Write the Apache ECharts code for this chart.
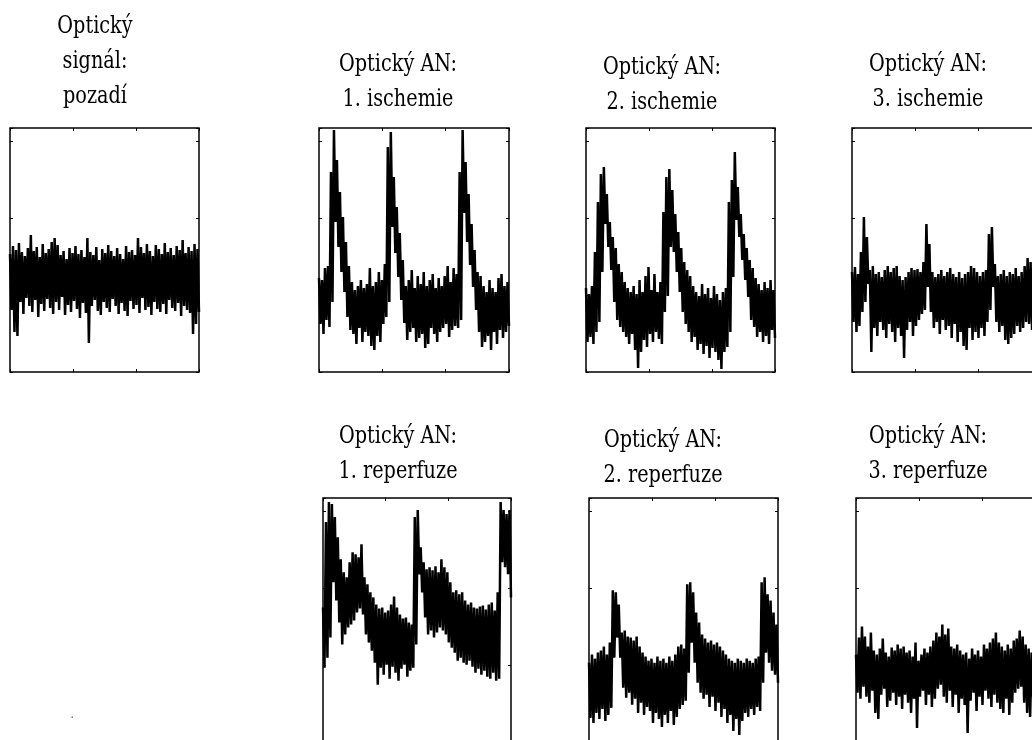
<!DOCTYPE html>
<html>
<head>
<meta charset="utf-8">
<script src="https://cdn.jsdelivr.net/npm/echarts@6/dist/echarts.min.js"></script>
<style>
  html, body { margin: 0; padding: 0; background: #fff; }
  #chart { width: 1032px; height: 740px; }
</style>
</head>
<body>
<div id="chart"></div>
<script>
// Panel titles
const titles = [
  'Optický\nsignál:\npozadí',
  'Optický AN:\n1. ischemie',
  'Optický AN:\n2. ischemie',
  'Optický AN:\n3. ischemie',
  'Optický AN:\n1. reperfuze',
  'Optický AN:\n2. reperfuze',
  'Optický AN:\n3. reperfuze'
];

// Time axis (arbitrary units) and amplitude axis (arbitrary units)
const timeTicks = [0, 1, 2, 3];
const ampTicks = [0, 77, 154, 231];
const ampMax = 244;

// Signal envelopes: upper (hi) and lower (lo) extremes of the noisy trace,
// sampled at 64 evenly spaced times across each record.
const pozadiHi = [118,126,122,129,120,116,124,137,121,125,115,128,119,123,130,134,127,117,121,113,124,119,126,118,122,115,134,120,117,125,112,123,119,127,121,116,124,118,113,126,120,122,117,134,125,119,128,121,116,127,123,118,129,120,124,117,126,122,132,119,125,121,128,123];
const pozadiLo = [62,40,36,70,58,74,66,60,72,55,68,61,73,64,58,70,62,75,57,67,60,71,63,54,69,59,29,66,72,61,57,70,64,60,73,66,58,69,61,56,71,63,67,59,74,62,65,57,70,63,60,68,58,72,64,61,69,56,66,62,59,38,48,60];

const isch1Hi = [94,92,104,106,200,242,212,180,155,130,106,90,82,86,92,84,88,104,86,90,100,92,108,225,240,195,165,139,112,86,92,102,84,96,88,100,86,92,98,84,94,86,96,106,90,104,98,200,242,210,178,148,122,100,96,86,80,92,84,80,94,98,86,90];
const isch1Lo = [48,38,52,45,70,150,125,100,80,55,42,38,28,44,30,40,36,26,22,36,30,48,55,70,145,119,95,72,49,32,40,44,30,34,38,24,28,44,38,30,40,44,48,35,42,46,44,52,159,130,107,85,62,40,25,30,36,22,40,28,42,34,40,46];

const isch2Hi = [84,78,86,120,170,198,205,178,150,135,124,108,100,90,84,80,86,78,92,80,96,105,82,98,80,90,160,195,203,182,158,140,124,110,102,96,86,80,76,88,78,84,74,86,78,72,80,84,170,192,220,185,158,138,124,112,104,94,88,82,90,84,92,82];
const isch2Lo = [30,35,28,40,50,100,148,125,102,70,52,45,40,35,28,38,22,4,20,32,25,38,30,40,33,28,60,76,125,120,100,80,60,48,40,30,35,22,28,18,26,14,24,20,12,3,20,25,40,95,152,135,112,92,75,52,45,35,40,30,36,28,42,34];

const isch3Hi = [100,105,98,120,155,135,102,106,98,100,95,102,106,100,104,106,96,92,95,100,104,102,103,100,110,148,128,100,95,98,102,96,100,104,98,95,100,94,98,100,106,104,100,96,100,102,138,145,108,96,98,102,96,100,98,104,96,100,106,114,110,102,100,98];
const isch3Lo = [50,40,46,60,70,88,20,44,36,50,42,34,48,40,30,44,36,14,42,50,36,46,52,58,62,85,60,44,50,38,52,42,46,34,48,30,40,26,22,44,32,40,34,44,36,50,62,85,50,40,46,32,28,34,38,46,40,44,50,48,42,46,40,48];

const rep1Hi = [135,220,240,238,225,205,183,170,165,180,190,188,185,198,165,158,150,145,138,134,135,130,132,138,146,135,128,124,125,120,118,225,232,195,180,173,175,172,176,170,183,175,170,160,150,152,148,150,142,138,140,135,134,136,137,133,138,140,132,150,240,232,228,232];
const rep1Lo = [75,85,105,160,142,120,98,108,115,118,122,130,134,128,108,100,92,80,58,75,68,78,64,76,70,62,74,78,66,72,75,98,168,150,125,108,112,105,110,115,112,108,100,95,90,82,85,80,78,82,76,70,74,68,72,66,64,70,62,64,180,175,168,145];

const rep2Hi = [80,88,84,90,92,96,88,100,152,150,138,110,112,106,105,102,106,96,90,86,82,84,80,86,82,84,80,86,82,88,96,98,94,158,160,150,130,120,108,104,100,102,98,100,96,92,88,84,82,80,84,82,80,84,82,80,84,86,160,165,148,142,130,118];
const rep2Lo = [25,20,30,24,34,22,28,35,85,105,85,55,45,50,38,44,30,40,28,36,32,20,30,24,16,28,20,32,18,26,34,38,42,70,100,80,60,50,44,48,36,46,32,40,26,34,20,28,12,24,8,22,30,26,34,28,36,32,60,90,80,72,68,60];

const rep3Hi = [88,105,116,106,96,110,92,88,94,104,90,86,95,92,98,94,96,90,92,86,100,82,88,94,90,96,102,110,106,118,108,114,96,94,98,92,88,90,84,94,88,92,86,98,94,100,104,110,100,96,92,98,94,102,104,112,106,98,94,90,96,92,94,90];
const rep3Lo = [50,44,56,46,40,52,30,24,48,54,36,42,50,38,46,34,48,40,30,44,15,46,52,38,48,36,44,54,58,46,40,52,36,48,30,44,38,10,42,50,32,46,38,52,44,36,48,40,34,30,44,28,40,50,54,56,40,30,26,46,38,50,40,48];

// Panel layout: plot box position and title anchor
const panels = [
  { title: titles[0], hi: pozadiHi, lo: pozadiLo, left: 10,  top: 128, width: 189, height: 244, tx: 95,  ty: 9 },
  { title: titles[1], hi: isch1Hi,  lo: isch1Lo,  left: 319, top: 128, width: 190, height: 244, tx: 398, ty: 47 },
  { title: titles[2], hi: isch2Hi,  lo: isch2Lo,  left: 586, top: 128, width: 189, height: 244, tx: 662, ty: 50 },
  { title: titles[3], hi: isch3Hi,  lo: isch3Lo,  left: 852, top: 128, width: 189, height: 244, tx: 928, ty: 47 },
  { title: titles[4], hi: rep1Hi,   lo: rep1Lo,   left: 323, top: 498, width: 188, height: 245, tx: 398, ty: 419 },
  { title: titles[5], hi: rep2Hi,   lo: rep2Lo,   left: 589, top: 498, width: 189, height: 245, tx: 663, ty: 423 },
  { title: titles[6], hi: rep3Hi,   lo: rep3Lo,   left: 856, top: 498, width: 189, height: 245, tx: 928, ty: 419 }
];

const tMax = timeTicks[timeTicks.length - 1];
const tStep = timeTicks[1] - timeTicks[0];
const aStep = ampTicks[1] - ampTicks[0];

// Interleave the envelope extremes into one dense trace
function trace(hi, lo) {
  const n = hi.length;
  const dt = tMax / (n - 0.5);
  const out = [];
  for (let i = 0; i < n; i++) {
    out.push([i * dt, hi[i]]);
    out.push([(i + 0.5) * dt, lo[i]]);
  }
  return out;
}

const tickStyle = { inside: true, length: 3, lineStyle: { color: '#000', width: 1 } };

function xAx(gi, pos) {
  return {
    gridIndex: gi, type: 'value', position: pos, min: 0, max: tMax, interval: tStep,
    axisLine: { show: false, onZero: false }, axisTick: tickStyle,
    axisLabel: { show: false }, splitLine: { show: false }
  };
}
function yAx(gi, pos) {
  return {
    gridIndex: gi, type: 'value', position: pos, min: 0, max: ampMax, interval: aStep,
    axisLine: { show: false, onZero: false }, axisTick: tickStyle,
    axisLabel: { show: false }, splitLine: { show: false }
  };
}

const grid = [], xAxis = [], yAxis = [], series = [], graphic = [];
panels.forEach((p, gi) => {
  grid.push({
    left: p.left, top: p.top, width: p.width, height: p.height,
    show: true, borderColor: '#000', borderWidth: 1.5, backgroundColor: 'transparent',
    containLabel: false, outerBoundsMode: 'none'
  });
  xAxis.push(xAx(gi, 'bottom'), xAx(gi, 'top'));
  yAxis.push(yAx(gi, 'left'), yAx(gi, 'right'));
  series.push({
    type: 'line', xAxisIndex: 2 * gi, yAxisIndex: 2 * gi,
    data: trace(p.hi, p.lo), symbol: 'none', showSymbol: false, silent: true,
    lineStyle: { color: '#000', width: 2.5, join: 'miter' }, clip: true
  });
  graphic.push({
    type: 'text', x: p.tx, y: p.ty, scaleX: 0.77, silent: true,
    style: {
      text: p.title, fill: '#000', font: '25px "DejaVu Serif"',
      align: 'center', verticalAlign: 'top', lineHeight: 35
    }
  });
});

// stray mark in the empty lower-left area
graphic.push({ type: 'rect', shape: { x: 71.5, y: 716.5, width: 1.5, height: 1.5 }, style: { fill: '#777' }, silent: true });

const chart = echarts.init(document.getElementById('chart'), null, { renderer: 'canvas' });
chart.setOption({
  backgroundColor: '#fff',
  animation: false,
  grid, xAxis, yAxis, series, graphic
});
</script>
</body>
</html>
